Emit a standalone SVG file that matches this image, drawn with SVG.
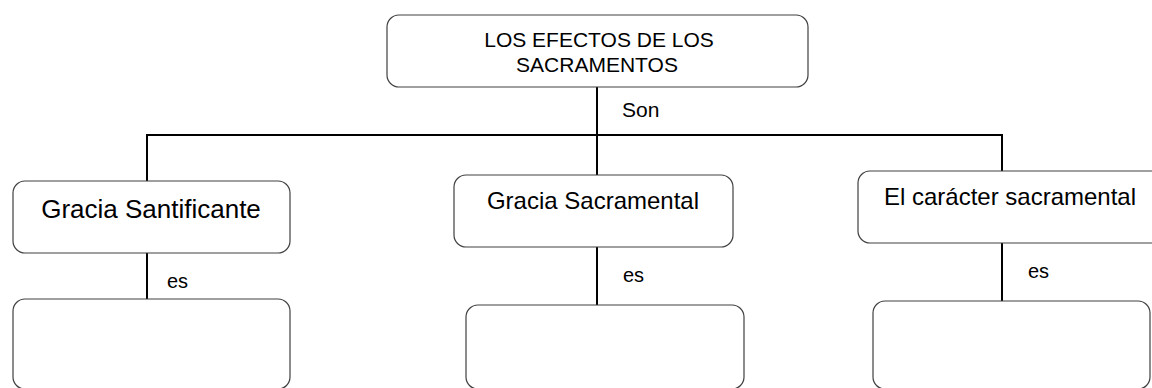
<svg xmlns="http://www.w3.org/2000/svg" width="1152" height="388" viewBox="0 0 1152 388">
<style>
.box{fill:#fff;stroke:#404040;stroke-width:1.2}
.ln{stroke:#000;stroke-width:2;fill:none}
text{font-family:"Liberation Sans",Arial,sans-serif;fill:#000}
</style>
<rect width="1152" height="388" fill="#fff"/>
<g id="connectors">
<path class="ln" d="M597 87V135M147 135H1003M147 134V181M597 134V175M1002 134V171"/>
<path class="ln" d="M147 253V299M597 247V305M1002 243V301"/>
<text x="622" y="117" font-size="21">Son</text>
<text x="167" y="288" font-size="20">es</text>
<text x="623" y="282" font-size="20">es</text>
<text x="1028" y="278" font-size="20">es</text>
</g>
<g id="root">
<rect class="box" x="387" y="15" width="421" height="72" rx="12"/>
<text x="599" y="47" font-size="21" text-anchor="middle">LOS EFECTOS DE LOS</text>
<text x="597" y="72" font-size="21" text-anchor="middle">SACRAMENTOS</text>
</g>
<g id="n1">
<rect class="box" x="13" y="181" width="277" height="72" rx="12"/>
<text x="151" y="218" font-size="26" text-anchor="middle">Gracia Santificante</text>
</g>
<g id="n2">
<rect class="box" x="454" y="175" width="279" height="72" rx="12"/>
<text x="593" y="209" font-size="24" text-anchor="middle">Gracia Sacramental</text>
</g>
<g id="n3">
<rect class="box" x="858" y="171" width="310" height="72" rx="12"/>
<text x="1010" y="205" font-size="24" text-anchor="middle">El carácter sacramental</text>
</g>
<g id="n4">
<rect class="box" x="13" y="299" width="277" height="90" rx="12"/>
</g>
<g id="n5">
<rect class="box" x="466" y="305" width="278" height="84" rx="12"/>
</g>
<g id="n6">
<rect class="box" x="873" y="301" width="277" height="88" rx="12"/>
</g>
</svg>
